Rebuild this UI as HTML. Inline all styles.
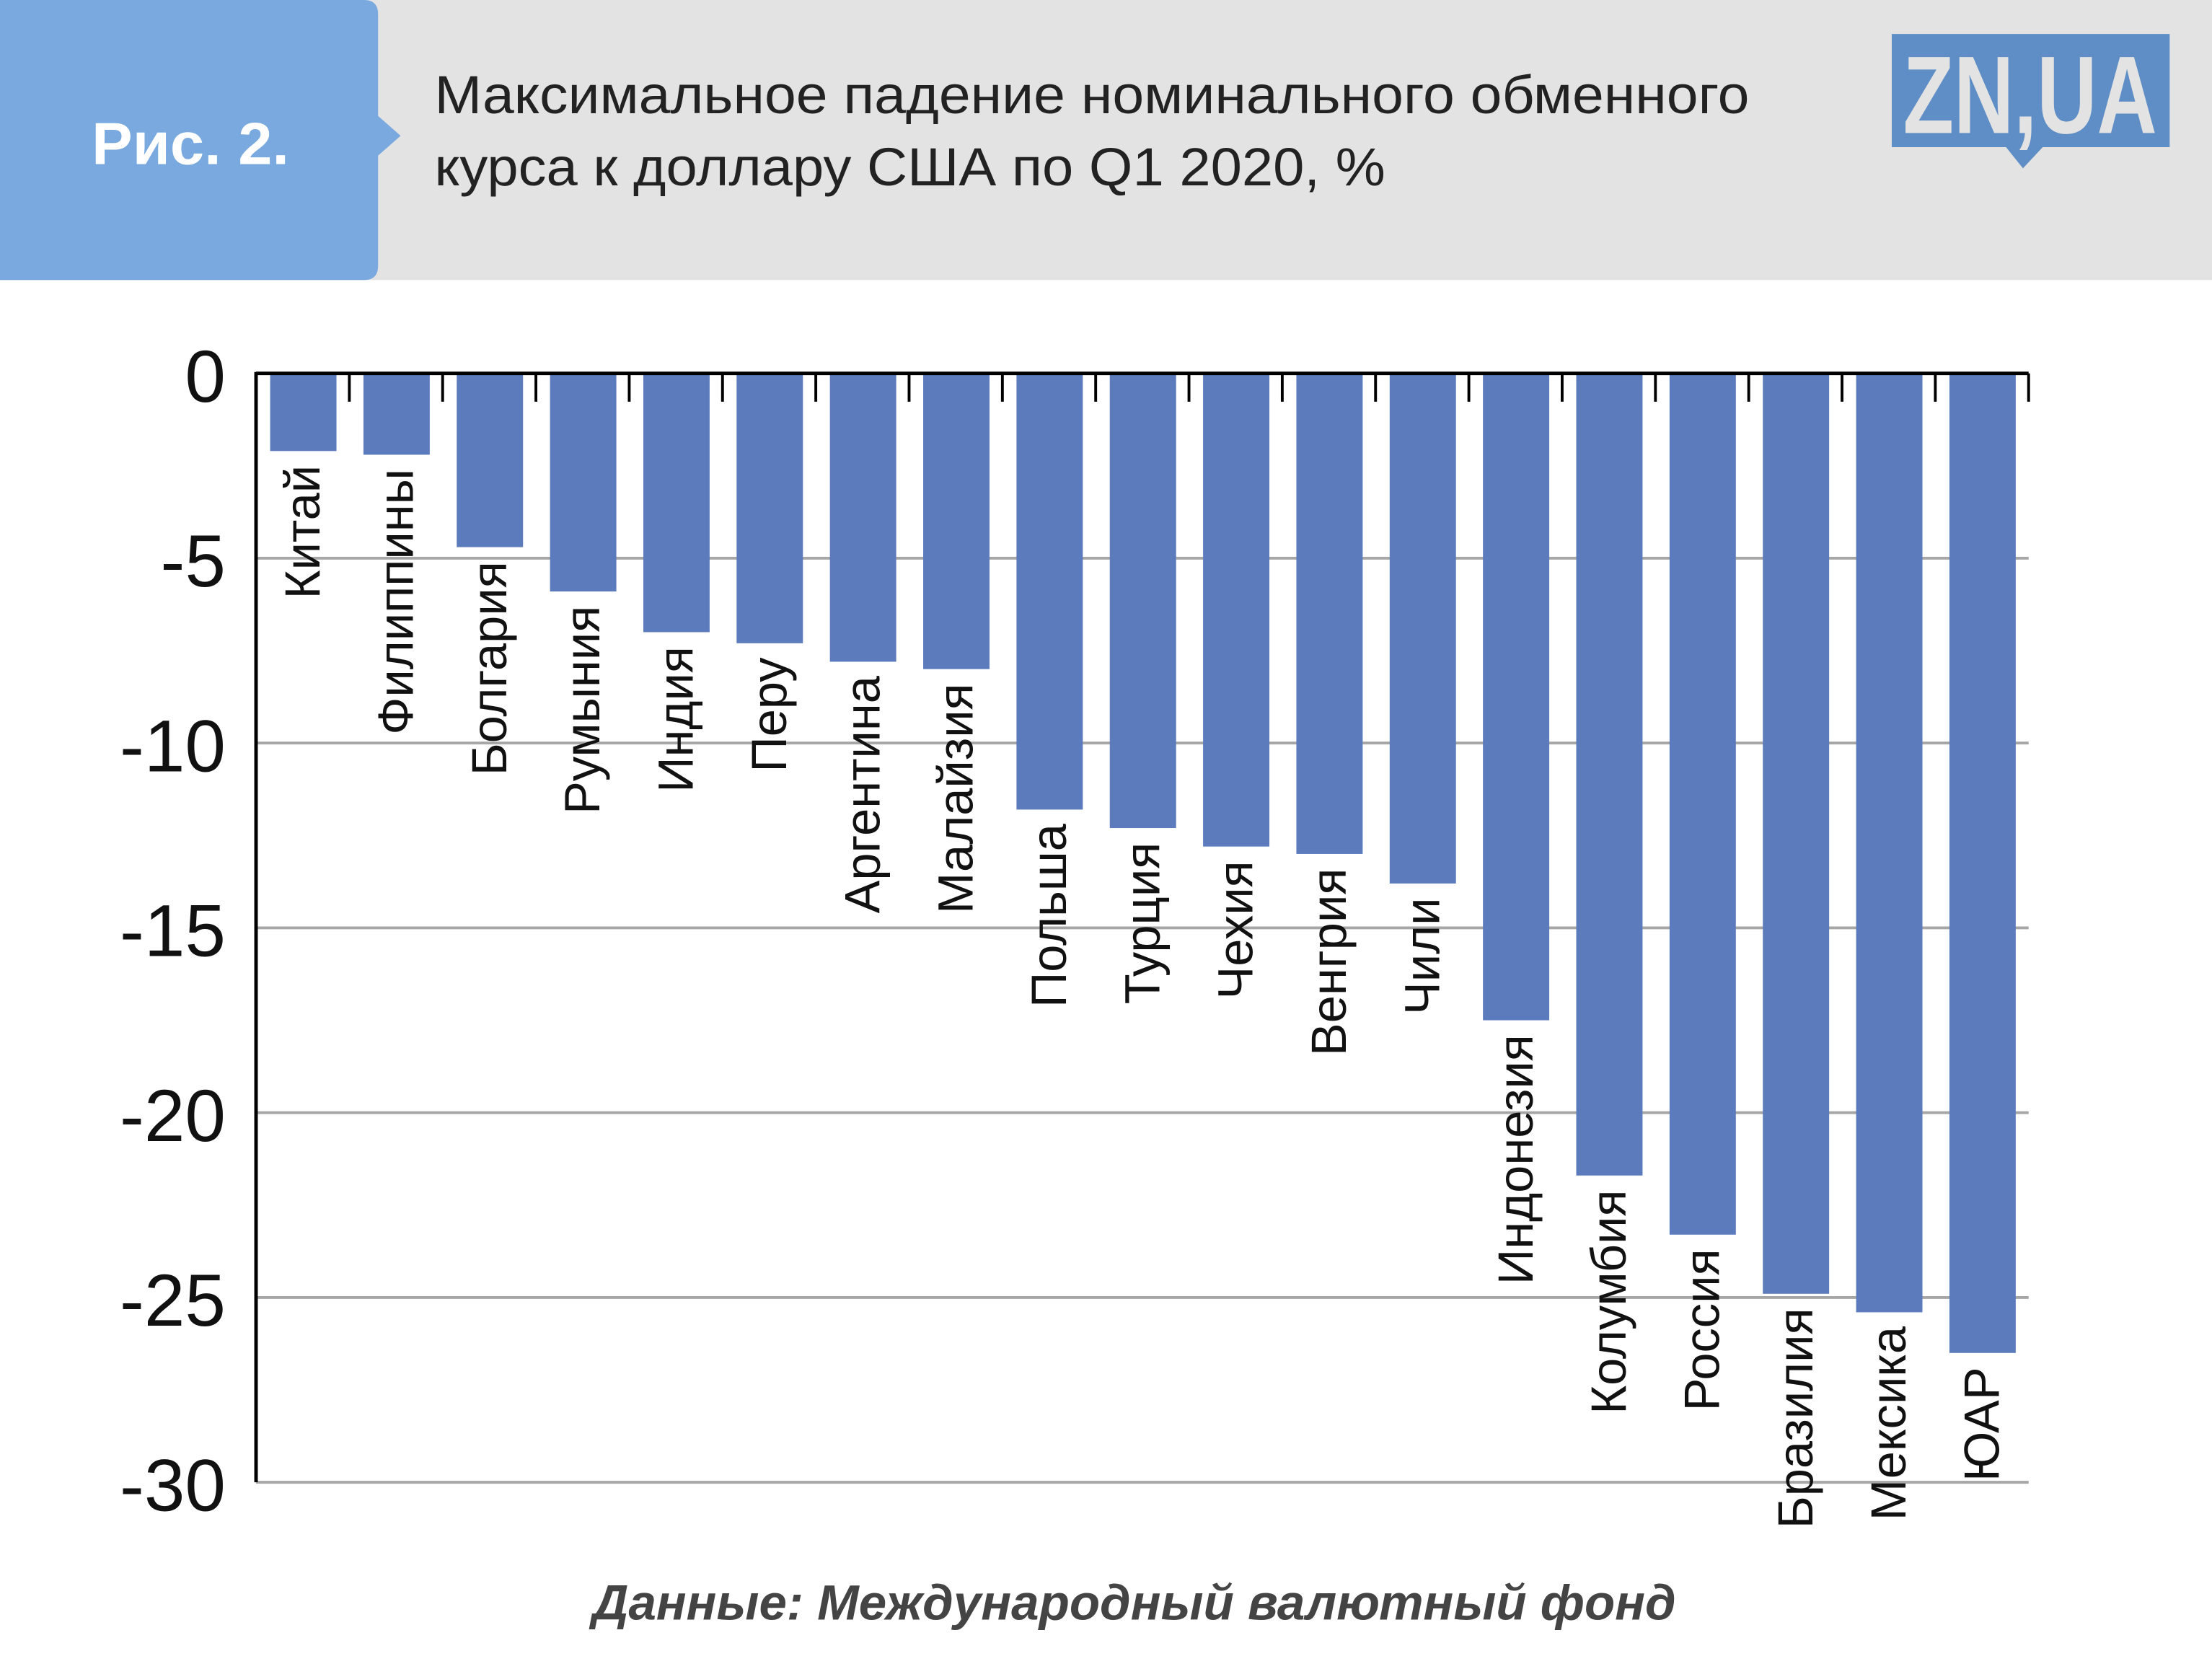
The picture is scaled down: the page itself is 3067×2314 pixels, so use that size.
<!DOCTYPE html>
<html><head><meta charset="utf-8"><style>
html,body{margin:0;padding:0;background:#fff;}
svg{display:block;}
text{font-family:"Liberation Sans",sans-serif;}
</style></head><body>
<svg width="3067" height="2314" viewBox="0 0 1568 1180" preserveAspectRatio="none" xmlns="http://www.w3.org/2000/svg">
<rect x="0" y="0" width="1568" height="198" fill="#e3e3e3"/>
<path d="M0,0 H258 Q268,0 268,10 V82 L284,96 L268,110 V188 Q268,198 258,198 H0 Z" fill="#79a9de"/>
<text x="65" y="116" font-size="42" font-weight="bold" fill="#fff" textLength="140" lengthAdjust="spacingAndGlyphs">Рис. 2.</text>
<text x="308" y="80" font-size="38" fill="#222" textLength="932" lengthAdjust="spacingAndGlyphs">Максимальное падение номинального обменного</text>
<text x="308" y="131" font-size="38" fill="#222" textLength="674" lengthAdjust="spacingAndGlyphs">курса к доллару США по Q1 2020, %</text>
<g>
<path d="M1341,24 H1538 V104 H1448 L1434,119 L1422,104 H1341 Z" fill="#5f8ec6"/>
<text x="1439" y="94" font-size="78" font-weight="bold" fill="#e3e3e3" text-anchor="middle" textLength="180" lengthAdjust="spacingAndGlyphs">ZN,UA</text>
</g>
<g id="plot"></g>
<text x="804" y="1145" font-size="35" font-weight="bold" font-style="italic" fill="#444" text-anchor="middle" textLength="768" lengthAdjust="spacingAndGlyphs">Данные: Международный валютный фонд</text>
</svg>
<script>
const categories=["Китай","Филиппины","Болгария","Румыния","Индия","Перу","Аргентина","Малайзия","Польша","Турция","Чехия","Венгрия","Чили","Индонезия","Колумбия","Россия","Бразилия","Мексика","ЮАР"];
const values=[-2.1,-2.2,-4.7,-5.9,-7.0,-7.3,-7.8,-8.0,-11.8,-12.3,-12.8,-13.0,-13.8,-17.5,-21.7,-23.3,-24.9,-25.4,-26.5];
const yTicks=[0,-5,-10,-15,-20,-25,-30];
const NS="http://www.w3.org/2000/svg";
const g=document.getElementById('plot');
const x0=181.5,x1=1438,yTop=264,yBot=1048;
const slot=(x1-x0)/categories.length;
function yScale(v){return yTop+(0-v)/30*(yBot-yTop);}
function xSlot(i){return x0+i*slot;}
function mk(t,a){const e=document.createElementNS(NS,t);for(const k in a)e.setAttribute(k,a[k]);g.appendChild(e);return e;}
yTicks.forEach(v=>{
  const y=yScale(v);
  if(v!==0){const l=mk('line',{x1:x0,x2:x1,y1:y,y2:y,stroke:'#a6a6a6','stroke-width':2});
  
  }
  const t=mk('text',{x:160,y:y+20,'font-size':52,'text-anchor':'end',fill:'#111'});
  t.textContent=String(v);
  
  
});
categories.forEach((c,i)=>{
  const xs=xSlot(i);
  const yb=yScale(values[i]);
  const r=mk('rect',{x:xs+10,y:yTop,width:47,height:yb-yTop,fill:'#5b7bbd'});
  
  
  const cx=xs+slot/2;
  const t=mk('text',{x:0,y:0,'font-size':35,'text-anchor':'end',fill:'#111',transform:`translate(${cx+12},${yb+10}) rotate(-90)`});
  t.textContent=c;
  
  
  if(i>0){const tk=mk('line',{x1:xs,x2:xs,y1:yTop,y2:yTop+20,stroke:'#000','stroke-width':2});
  
  }
});
const tk=mk('line',{x1:x1,x2:x1,y1:yTop,y2:yTop+20,stroke:'#000','stroke-width':2});


const ax=mk('line',{x1:x0,x2:x0,y1:yTop-1,y2:yBot,stroke:'#000','stroke-width':2.5});


const zx=mk('line',{x1:x0,x2:x1,y1:yTop,y2:yTop,stroke:'#000','stroke-width':2.5});


</script>
</body></html>
